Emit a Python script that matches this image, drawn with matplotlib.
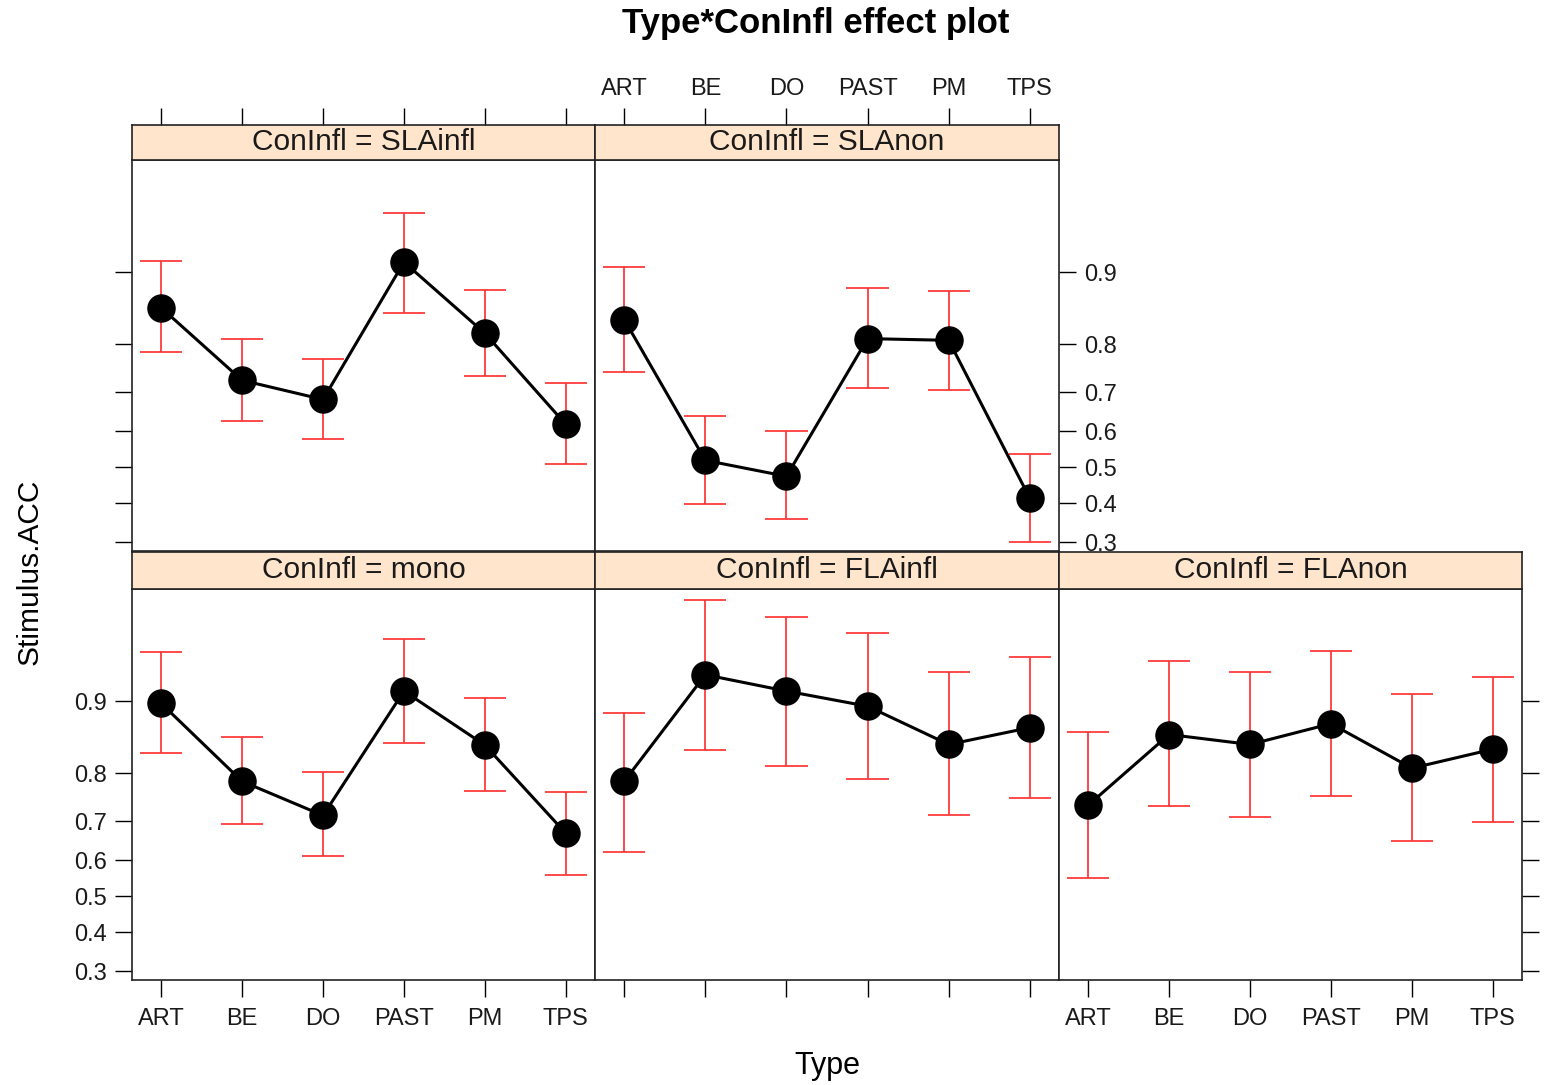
import numpy as np
import matplotlib
matplotlib.use("Agg")
import matplotlib.pyplot as plt
from matplotlib.ticker import NullLocator

plt.rcParams['font.family'] = ['Liberation Sans', 'DejaVu Sans']

types = ["ART", "BE", "DO", "PAST", "PM", "TPS"]
panels = ["SLAinfl", "SLAnon", "mono", "FLAinfl", "FLAnon"]

fit = {
    "SLAinfl": [0.858, 0.727, 0.682, 0.910, 0.819, 0.618],
    "SLAnon":  [0.841, 0.519, 0.474, 0.810, 0.807, 0.413],
    "mono":    [0.898, 0.785, 0.713, 0.910, 0.846, 0.670],
    "FLAinfl": [0.785, 0.924, 0.910, 0.895, 0.847, 0.870],
    "FLAnon":  [0.736, 0.861, 0.847, 0.875, 0.809, 0.840],
}
lower = {
    "SLAinfl": [0.785, 0.626, 0.578, 0.851, 0.736, 0.508],
    "SLAnon":  [0.745, 0.397, 0.357, 0.709, 0.704, 0.300],
    "mono":    [0.834, 0.692, 0.611, 0.849, 0.767, 0.558],
    "FLAinfl": [0.621, 0.838, 0.812, 0.789, 0.713, 0.751],
    "FLAnon":  [0.550, 0.734, 0.709, 0.755, 0.650, 0.697],
}
upper = {
    "SLAinfl": [0.911, 0.809, 0.773, 0.946, 0.881, 0.720],
    "SLAnon":  [0.905, 0.640, 0.600, 0.883, 0.880, 0.536],
    "mono":    [0.940, 0.857, 0.802, 0.948, 0.903, 0.763],
    "FLAinfl": [0.888, 0.966, 0.959, 0.951, 0.926, 0.937],
    "FLAnon":  [0.865, 0.934, 0.926, 0.941, 0.907, 0.922],
}
yticks = [0.3, 0.4, 0.5, 0.6, 0.7, 0.8, 0.9]
ytick_labels = ["0.3", "0.4", "0.5", "0.6", "0.7", "0.8", "0.9"]

W, H = 1545, 1085
fig = plt.figure(figsize=(W / 100, H / 100), dpi=100)

colx = [(132, 595), (595, 1059), (1059, 1522)]
rows = {0: (125, 160, 551), 1: (552, 589, 980)}
layout = [("SLAinfl", 0, 0), ("SLAnon", 0, 1), ("mono", 1, 0), ("FLAinfl", 1, 1), ("FLAnon", 1, 2)]

def frac(x0, x1, y0, y1):
    return [x0 / W, 1 - y1 / H, (x1 - x0) / W, (y1 - y0) / H]

xpos = np.arange(1, len(types) + 1)
XLIM = (0.64, 6.36)
YLIM = (0.2795, 0.9697)
strip_col = "#FFE5CC"
tick_fs = 17
strip_fs = 21.5
tl = 12

for name, r, c in layout:
    x0, x1 = colx[c]
    st, pt, pb = rows[r]
    ax = fig.add_axes(frac(x0, x1, pt, pb))
    sax = fig.add_axes(frac(x0, x1, st, pt))

    sax.set_facecolor(strip_col)
    sax.set_xlim(XLIM)
    sax.set_yticks([])
    sax.text(0.5, 0.5, "ConInfl = " + name, transform=sax.transAxes,
             ha="center", va="center", fontsize=strip_fs, color="#1a1a1a")
    for s in sax.spines.values():
        s.set_linewidth(1.2)
        s.set_color("#222222")
    sax.tick_params(axis="x", bottom=False, labelbottom=False, top=(r == 0),
                    labeltop=(name == "SLAnon"), direction="out", length=tl,
                    width=1, labelsize=tick_fs, pad=6, labelcolor="#1a1a1a")
    sax.set_xticks(xpos)
    sax.set_xticklabels(types)

    lo = np.array(lower[name]); hi = np.array(upper[name]); f = np.array(fit[name])
    ax.vlines(xpos, lo, hi, colors="#ff3b3b", lw=1.3, zorder=2)
    ax.hlines(lo, xpos - 0.26, xpos + 0.26, colors="#ff3b3b", lw=1.3, zorder=2)
    ax.hlines(hi, xpos - 0.26, xpos + 0.26, colors="#ff3b3b", lw=1.3, zorder=2)
    ax.plot(xpos, f, color="black", lw=2.2, marker="o", markersize=19.5, zorder=3)

    ax.set_yscale("logit")
    ax.set_ylim(YLIM)
    ax.set_xlim(XLIM)
    ax.set_yticks(yticks)
    ax.set_yticklabels(ytick_labels)
    ax.yaxis.set_minor_locator(NullLocator())
    ax.set_xticks(xpos)
    ax.set_xticklabels(types)
    for s in ax.spines.values():
        s.set_linewidth(1.2)
        s.set_color("#222222")

    left_ticks = (c == 0)
    right_ticks = (name in ("SLAnon", "FLAnon"))
    ax.tick_params(axis="y", direction="out", length=tl, width=1, labelsize=tick_fs,
                   left=left_ticks, labelleft=(name == "mono"),
                   right=right_ticks, labelright=(name == "SLAnon"), pad=6,
                   labelcolor="#1a1a1a")
    ax.tick_params(axis="x", direction="out", length=tl, width=1, labelsize=tick_fs,
                   bottom=(r == 1), labelbottom=(name in ("mono", "FLAnon")),
                   top=False, pad=8, labelcolor="#1a1a1a")

fig.text(816 / W, 1 - 24 / H, "Type*ConInfl effect plot", ha="center", va="center",
         fontsize=25, fontweight="bold")
fig.text(827 / W, 1 - 1066 / H, "Type", ha="center", va="center", fontsize=22)
fig.text(30 / W, 1 - 572 / H, "Stimulus.ACC", ha="center", va="center",
         fontsize=21.5, rotation=90)

fig.savefig("out.png", dpi=100)
